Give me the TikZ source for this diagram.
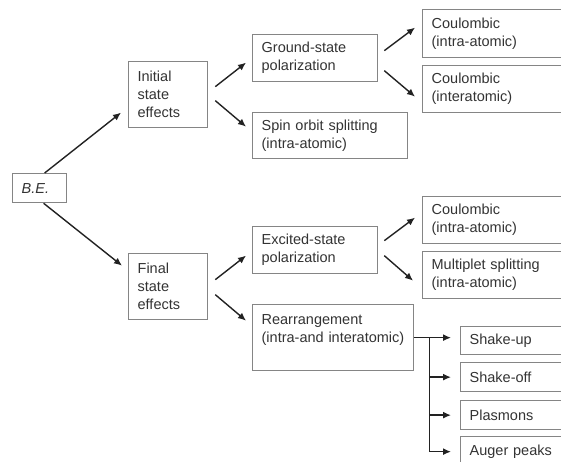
\documentclass[tikz,border=0pt]{standalone}
\usepackage{fontspec}
\setmainfont{Liberation Sans}
\usetikzlibrary{arrows.meta}
\definecolor{framecolor}{HTML}{858585}
\definecolor{labelcolor}{HTML}{333333}
\definecolor{arrowcolor}{HTML}{222222}

\begin{document}
\begin{tikzpicture}[
    x=1pt, y=-1pt,
    box/.style={rectangle, draw=framecolor, line width=1.3pt,
                anchor=north west, align=left,
                inner xsep=9pt, inner ysep=3pt,
                text=labelcolor,
                font=\fontsize{14.5}{18}\selectfont},
    arr/.style={draw=arrowcolor, line width=1.4pt, -{Latex[length=8pt,width=7pt]}},
    bus/.style={draw=arrowcolor, line width=1.4pt}
]
\clip (0,0) rectangle (561,461);

% binding energy and the two kinds of effects
\node[box, text width=36pt, minimum height=29pt] (be) at (12,173) {\textit{B.E.}};
\node[box, text width=61pt, minimum height=66pt] (init) at (128,61) {Initial\\state\\effects};
\node[box, text width=61pt, minimum height=66pt] (final) at (128,253) {Final\\state\\effects};

% initial state branch
\node[box, text width=107pt, minimum height=47pt] (ground) at (252,34) {Ground-state\\polarization};
\node[box, text width=137pt, minimum height=46pt] (spin) at (252,112) {Spin orbit splitting\\(intra-atomic)};
\node[box, text width=135pt, minimum height=48pt] (coulA) at (422,9) {Coulombic\\(intra-atomic)};
\node[box, text width=135pt, minimum height=47pt] (coulB) at (422,65) {Coulombic\\(interatomic)};

% final state branch
\node[box, text width=107pt, minimum height=47pt] (excited) at (252,226) {Excited-state\\polarization};
\node[box, text width=143pt, minimum height=66pt] (rearr) at (252,304) {Rearrangement\\(intra-and interatomic)\\\mbox{}};
\node[box, text width=135pt, minimum height=47pt] (coulC) at (422,196) {Coulombic\\(intra-atomic)};
\node[box, text width=135pt, minimum height=47pt] (multi) at (422,251) {Multiplet splitting\\(intra-atomic)};

\node[box, text width=97pt, minimum height=28pt] (shakeup) at (460,326) {Shake-up};
\node[box, text width=97pt, minimum height=29pt] (shakeoff) at (460,362) {Shake-off};
\node[box, text width=97pt, minimum height=29pt] (plasmons) at (460,400) {Plasmons};
\node[box, text width=97pt, minimum height=30pt] (auger) at (460,436) {Auger peaks};

% arrows
\draw[arr] ([xshift=5pt]be.north) -- ([xshift=-7pt,yshift=-18pt]init.west);
\draw[arr] ([xshift=4pt]be.south) -- ([xshift=-6pt,yshift=21pt]final.west);

\draw[arr] ([xshift=7pt,yshift=8pt]init.east) -- ([xshift=-6pt,yshift=-4.5pt]ground.west);
\draw[arr] ([xshift=7pt,yshift=-6pt]init.east) -- ([xshift=-6pt,yshift=9pt]spin.west);
\draw[arr] ([xshift=7pt,yshift=7pt]final.east) -- ([xshift=-6pt,yshift=-5.5pt]excited.west);
\draw[arr] ([xshift=7pt,yshift=-8pt]final.east) -- ([xshift=-6pt,yshift=17pt]rearr.west);

\draw[arr] ([xshift=6pt,yshift=7.5pt]ground.east) -- ([xshift=-7pt,yshift=6pt]coulA.west);
\draw[arr] ([xshift=6pt,yshift=-12.5pt]ground.east) -- ([xshift=-7pt,yshift=-7.5pt]coulB.west);
\draw[arr] ([xshift=6pt,yshift=9.5pt]excited.east) -- ([xshift=-7pt,yshift=2.5pt]coulC.west);
\draw[arr] ([xshift=6pt,yshift=-5.5pt]excited.east) -- ([xshift=-9pt,yshift=-5.5pt]multi.west);

% rearrangement fan-out
\coordinate (fork) at ([xshift=15pt]rearr.east);
\draw[arr] (rearr.east) -- ([xshift=-9pt]shakeup.west |- rearr.east);
\draw[bus] (fork) -- (fork |- auger.west);
\foreach \n in {shakeoff, plasmons, auger}
    \draw[arr] (fork |- \n.west) -- ([xshift=-9pt]\n.west);
\end{tikzpicture}
\end{document}
